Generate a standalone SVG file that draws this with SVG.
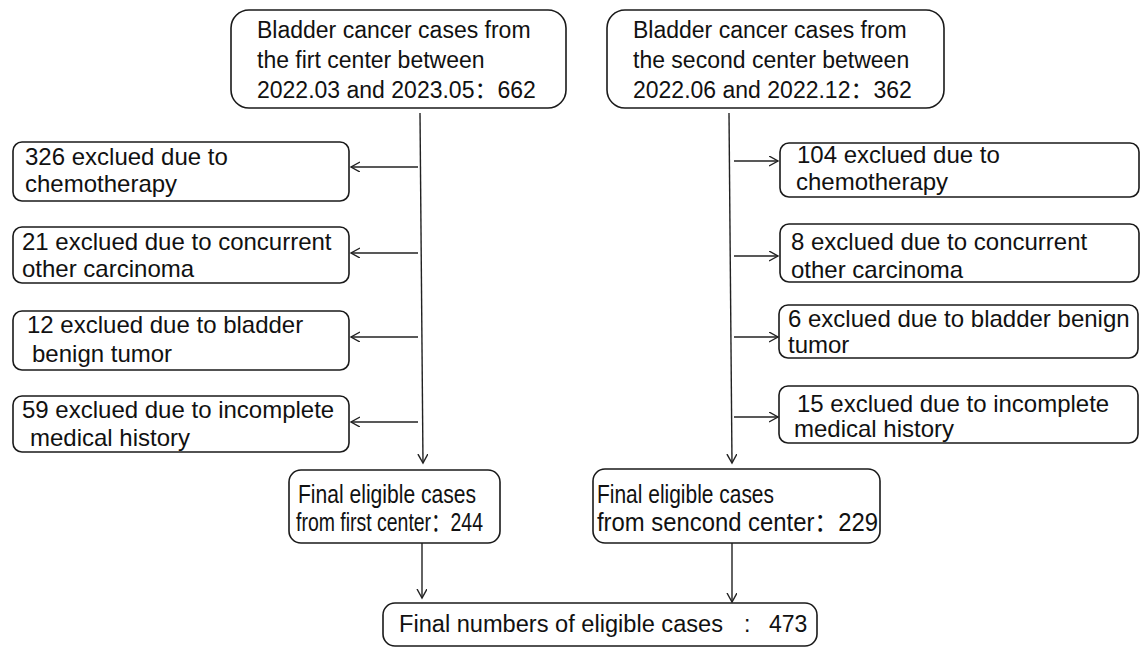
<svg xmlns="http://www.w3.org/2000/svg" width="1146" height="648" viewBox="0 0 1146 648">
<style>
.box{fill:#fff;stroke:#1a1a1a;stroke-width:1.6}
.t{font-family:"Liberation Sans",Arial,"Noto Sans CJK SC",sans-serif;font-size:23px;fill:#111}
.e{font-size:24px}
.f{font-size:25px}
.c{stroke:#222;stroke-width:1.4;fill:none}
</style>
<defs>
<marker id="ah" markerUnits="userSpaceOnUse" markerWidth="12" markerHeight="12" refX="9" refY="5" orient="auto">
<path d="M0,0 L9,5 L0,10" fill="none" stroke="#222" stroke-width="1.4"/>
</marker>
</defs>
<g id="connectors">
<line class="c" x1="420" y1="113" x2="423" y2="463" marker-end="url(#ah)"/>
<line class="c" x1="729" y1="113" x2="732" y2="463" marker-end="url(#ah)"/>
<line class="c" x1="418" y1="167" x2="351" y2="167" marker-end="url(#ah)"/>
<line class="c" x1="418" y1="253" x2="351" y2="253" marker-end="url(#ah)"/>
<line class="c" x1="418" y1="337" x2="351" y2="337" marker-end="url(#ah)"/>
<line class="c" x1="418" y1="422" x2="351" y2="422" marker-end="url(#ah)"/>
<line class="c" x1="734" y1="161" x2="778" y2="161" marker-end="url(#ah)"/>
<line class="c" x1="734" y1="256" x2="778" y2="256" marker-end="url(#ah)"/>
<line class="c" x1="734" y1="337" x2="778" y2="337" marker-end="url(#ah)"/>
<line class="c" x1="734" y1="417" x2="778" y2="417" marker-end="url(#ah)"/>
<line class="c" x1="422" y1="543" x2="422" y2="598" marker-end="url(#ah)"/>
<line class="c" x1="732" y1="543" x2="732" y2="602" marker-end="url(#ah)"/>
</g>
<g id="top-left">
<rect class="box" x="231" y="10" width="335" height="98" rx="18"/>
<text class="t" x="257" y="38">Bladder cancer cases from</text>
<text class="t" x="257" y="68">the firt center between</text>
<text class="t" x="257" y="98">2022.03 and 2023.05：662</text>
</g>
<g id="top-right">
<rect class="box" x="607" y="10" width="337" height="98" rx="18"/>
<text class="t" x="633" y="38">Bladder cancer cases from</text>
<text class="t" x="633" y="68">the second center between</text>
<text class="t" x="633" y="98">2022.06 and 2022.12：362</text>
</g>
<g id="ex-left-1">
<rect class="box" x="13" y="142" width="336" height="59" rx="9"/>
<text class="t e" x="25" y="165">326 exclued due to</text>
<text class="t e" x="25" y="192">chemotherapy</text>
</g>
<g id="ex-left-2">
<rect class="box" x="13" y="227" width="336" height="56" rx="9"/>
<text class="t e" x="22" y="250">21 exclued due to concurrent</text>
<text class="t e" x="22" y="277">other carcinoma</text>
</g>
<g id="ex-left-3">
<rect class="box" x="13" y="311" width="336" height="59" rx="9"/>
<text class="t e" x="27" y="333">12 exclued due to bladder</text>
<text class="t e" x="32" y="362">benign tumor</text>
</g>
<g id="ex-left-4">
<rect class="box" x="13" y="396" width="336" height="56" rx="9"/>
<text class="t e" x="22" y="418">59 exclued due to incomplete</text>
<text class="t e" x="30" y="446">medical history</text>
</g>
<g id="ex-right-1">
<rect class="box" x="780" y="143" width="359" height="54" rx="9"/>
<text class="t e" x="797" y="163">104 exclued due to</text>
<text class="t e" x="796" y="190">chemotherapy</text>
</g>
<g id="ex-right-2">
<rect class="box" x="780" y="224" width="359" height="58" rx="9"/>
<text class="t e" x="791" y="250">8 exclued due to concurrent</text>
<text class="t e" x="791" y="278">other carcinoma</text>
</g>
<g id="ex-right-3">
<rect class="box" x="779" y="305" width="359" height="53" rx="9"/>
<text class="t e" x="788" y="327">6 exclued due to bladder benign</text>
<text class="t e" x="788" y="353">tumor</text>
</g>
<g id="ex-right-4">
<rect class="box" x="779" y="386" width="359" height="57" rx="9"/>
<text class="t e" x="797" y="412">15 exclued due to incomplete</text>
<text class="t e" x="794" y="437">medical history</text>
</g>
<g id="final-left">
<rect class="box" x="289" y="470" width="211" height="73" rx="12"/>
<text class="t f" x="298" y="503" textLength="178" lengthAdjust="spacingAndGlyphs">Final eligible cases</text>
<text class="t f" x="296" y="531" textLength="187" lengthAdjust="spacingAndGlyphs">from first center：244</text>
</g>
<g id="final-right">
<rect class="box" x="593" y="469" width="287" height="74" rx="12"/>
<text class="t f" x="597" y="503" textLength="177" lengthAdjust="spacingAndGlyphs">Final eligible cases</text>
<text class="t f" x="597" y="531" textLength="281" lengthAdjust="spacingAndGlyphs">from sencond center：229</text>
</g>
<g id="final-total">
<rect class="box" x="383" y="603" width="434" height="43" rx="12"/>
<text class="t" x="399" y="632"><tspan textLength="324" lengthAdjust="spacingAndGlyphs">Final numbers of eligible cases</tspan><tspan x="744">:</tspan><tspan x="769">473</tspan></text>
</g>
</svg>
